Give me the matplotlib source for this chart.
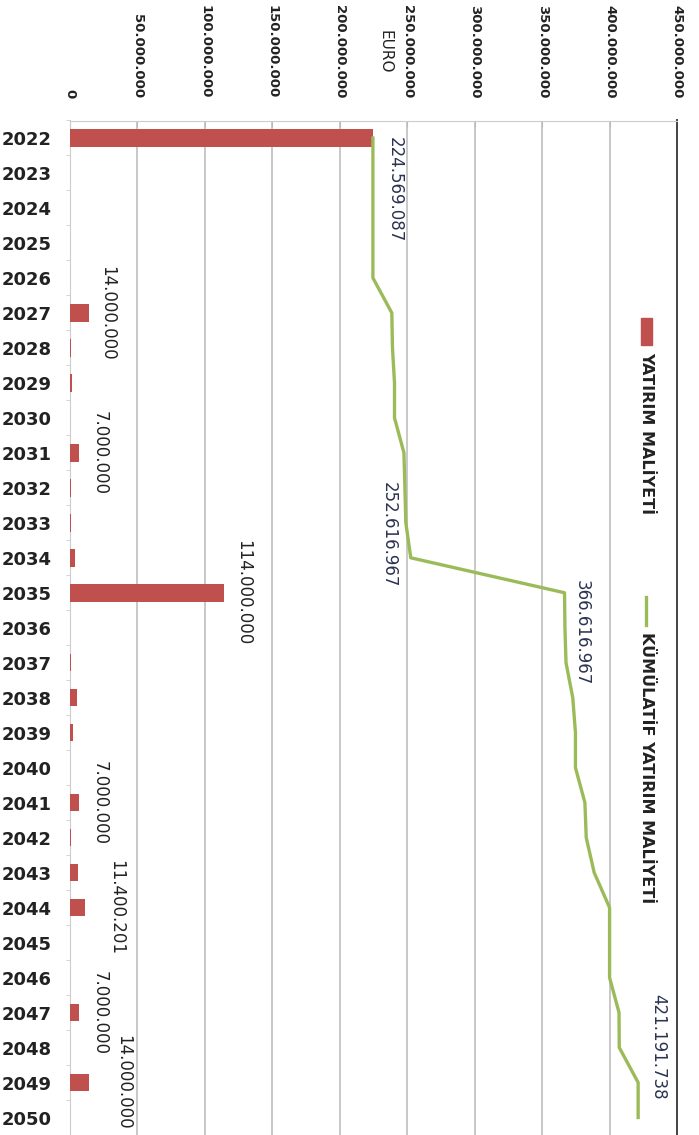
import numpy as np
import matplotlib.pyplot as plt
from matplotlib.patches import Rectangle
from matplotlib.lines import Line2D

years = list(range(2022, 2051))
# yearly investment cost (EURO)
cost = [224569087, 0, 0, 0, 0, 14000000, 500000, 1500000, 0, 7000000,
        700000, 700000, 3647880, 114000000, 300000, 800000, 5000000, 2000000,
        0, 7000000, 1000000, 5900000, 11400201, 0, 0, 7000000, 174570,
        14000000, 0]
cumulative = np.cumsum(cost)

xticks = list(range(0, 450000001, 50000000))
bar_label_years = [2027, 2031, 2035, 2041, 2044, 2047, 2049]
line_label_years = [2022, 2034, 2035, 2050]

def fmt(v):
    return f"{int(round(v)):,}".replace(",", ".")

W, H = 699, 1135
fig = plt.figure(figsize=(W / 100, H / 100), dpi=100)
ax = fig.add_axes([70 / W, 0, (677 - 70) / W, (H - 120.5) / H])

red = "#C0504D"
green = "#9BBB59"

ax.barh(years, cost, height=0.5, color=red, zorder=3)
ax.plot(cumulative, years, color=green, lw=2.4, zorder=4)

ax.set_xlim(0, 450000000)
ax.set_ylim(2050.5, 2021.5)

ax.xaxis.tick_top()
ax.set_xticks(xticks)
ax.set_xticklabels([fmt(v) for v in xticks], rotation=-90, fontsize=9.5,
                   fontweight="bold", color="#222222")
ax.tick_params(axis="x", direction="in", length=4, pad=16, color="#BBBBBB")
ax.set_yticks(years)
ax.set_yticklabels([str(y) for y in years], fontsize=13, fontweight="bold",
                   color="#222222")
ax.tick_params(axis="y", length=0, pad=13)
ax.set_yticks(np.arange(2021.5, 2051, 1), minor=True)
ax.tick_params(axis="y", which="minor", length=3, color="#CCCCCC")

ax.grid(axis="x", color="#BFBFBF", lw=1.2, zorder=0)
for s in ["left", "top"]:
    ax.spines[s].set_color("#CCCCCC")
ax.spines["bottom"].set_visible(False)
ax.spines["right"].set_color("#444444")
ax.spines["right"].set_linewidth(1.4)

# value labels for bars
bar_off = {2027: 18, 2031: 20, 2035: 19, 2041: 20, 2044: 31, 2047: 20, 2049: 34}
for y in bar_label_years:
    v = cost[years.index(y)]
    ax.annotate(fmt(v), xy=(v, y), xytext=(bar_off[y], 0),
                textcoords="offset pixels", rotation=-90, ha="center",
                va="center", fontsize=12, color="#222222")

# value labels for the cumulative line
line_off = {2022: (22, -52), 2034: (-22, 23), 2035: (17, -40), 2050: (20, 71)}
for y in line_label_years:
    v = cumulative[years.index(y)]
    ax.annotate(fmt(v), xy=(v, y), xytext=line_off[y],
                textcoords="offset pixels", rotation=-90, ha="center",
                va="center", fontsize=12, color="#2B3350")

fig.text(385 / W, 1 - 52 / H, "EURO", rotation=-90, ha="center", va="center",
         fontsize=11, color="#222222")

# legend, drawn vertically along the right side
fig.patches.append(Rectangle((641 / W, 1 - 345 / H), 11 / W, 27 / H,
                             transform=fig.transFigure, color=red))
fig.text(647 / W, 1 - 352 / H, "YATIRIM MALİYETİ", rotation=-90, ha="center",
         va="top", fontsize=11.5, fontweight="bold", color="#222222")
fig.lines.append(Line2D([646 / W, 646 / W], [1 - 597 / H, 1 - 625 / H],
                        transform=fig.transFigure, color=green, lw=2.4))
fig.text(647 / W, 1 - 632 / H, "KÜMÜLATİF YATIRIM MALİYETİ", rotation=-90,
         ha="center", va="top", fontsize=11.5, fontweight="bold",
         color="#222222")

fig.savefig("out.png", dpi=100)
